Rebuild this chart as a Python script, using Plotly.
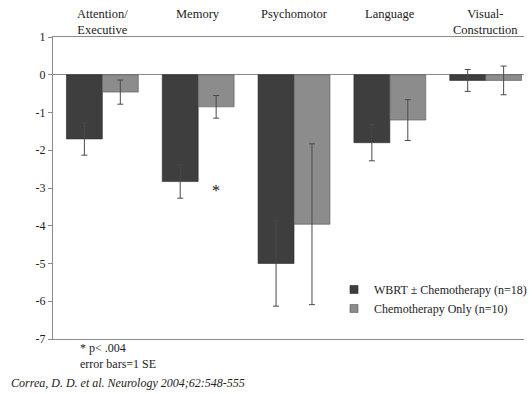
import plotly.graph_objects as go

categories = ["Attention/<br>Executive", "Memory", "Psychomotor", "Language", "Visual-<br>Construction"]
wbrt_mean = [-1.70, -2.83, -5.00, -1.80, -0.15]
wbrt_se = [0.43, 0.44, 1.13, 0.48, 0.29]
chemo_mean = [-0.46, -0.85, -3.96, -1.20, -0.15]
chemo_se = [0.32, 0.30, 2.13, 0.54, 0.38]
series_names = ["WBRT \u00b1 Chemotherapy (n=18)", "Chemotherapy Only (n=10)"]
y_ticks = [1, 0, -1, -2, -3, -4, -5, -6, -7]
y_tick_labels = ["1", "0", "-1", "-2", "-3", "-4", "-5", "-6", "-7"]
sig_index = 1  # Memory, significant for chemo-only comparison
sig_value = -3.07

FONT = "Liberation Serif, Times New Roman, serif"
DARK = "#3e3e3e"
LIGHT = "#8c8c8c"
AXIS = "#8a8a8a"

x_idx = list(range(len(categories)))

fig = go.Figure()
fig.add_trace(go.Bar(
    x=x_idx, y=wbrt_mean, name=series_names[0], showlegend=False,
    marker=dict(color=DARK, line=dict(color="#2a2a2a", width=0.6)),
    error_y=dict(type="data", array=wbrt_se, color="#4a4a4a", thickness=1, width=3),
))
fig.add_trace(go.Bar(
    x=x_idx, y=chemo_mean, name=series_names[1], showlegend=False,
    marker=dict(color=LIGHT, line=dict(color="#555555", width=0.6)),
    error_y=dict(type="data", array=chemo_se, color="#4a4a4a", thickness=1, width=3),
))
# legend entries with small square symbols
for name, col, lc in [(series_names[0], DARK, "#2a2a2a"), (series_names[1], LIGHT, "#555555")]:
    fig.add_trace(go.Scatter(
        x=[None], y=[None], mode="markers", name=name,
        marker=dict(symbol="square", size=8, color=col, line=dict(color=lc, width=0.6)),
    ))

annotations = []
for i, c in enumerate(categories):
    annotations.append(dict(
        x=i, xref="x", y=1, yref="paper", yanchor="top", yshift=32,
        text=c, showarrow=False, font=dict(family=FONT, size=12.5, color="#222"),
    ))
bar_w = 0.75 / 2
annotations.append(dict(
    x=sig_index + bar_w / 2, xref="x", y=sig_value, yref="y",
    text="*", showarrow=False, font=dict(family=FONT, size=16, color="#111"),
))
annotations.append(dict(
    x=(78 - 53) / 479, xref="paper", y=0, yref="paper", xanchor="left", yanchor="top",
    text="* p< .004<br>error bars=1 SE", align="left", showarrow=False,
    font=dict(family=FONT, size=12, color="#222"),
))
annotations.append(dict(
    x=(8 - 53) / 479, xref="paper", y=0, yref="paper", xanchor="left", yanchor="middle",
    yshift=-44, text="<i>Correa, D. D. et al. Neurology 2004;62:548-555</i>",
    showarrow=False, font=dict(family=FONT, size=12, color="#222"),
))

fig.update_layout(
    width=532, height=394,
    margin=dict(l=53, r=0, t=37, b=55),
    paper_bgcolor="white", plot_bgcolor="white",
    barmode="group", bargap=0.25, bargroupgap=0,
    font=dict(family=FONT, size=12, color="#222"),
    showlegend=True,
    legend=dict(x=0.597, y=0.212, xanchor="left", yanchor="top",
                font=dict(family=FONT, size=12, color="#222"),
                bgcolor="rgba(0,0,0,0)", tracegroupgap=0, itemwidth=30),
    annotations=annotations,
    xaxis=dict(range=[-0.515, 4.40], showticklabels=False, ticks="",
               showline=True, linecolor=AXIS, linewidth=1, mirror=True,
               showgrid=False, zeroline=False),
    yaxis=dict(range=[-7, 1], tickvals=y_ticks, ticktext=y_tick_labels,
               ticks="outside", ticklen=4,
               tickcolor=AXIS, showline=True, linecolor=AXIS, linewidth=1,
               showgrid=False, zeroline=True, zerolinecolor=AXIS, zerolinewidth=1,
               tickfont=dict(family=FONT, size=12, color="#222")),
)

fig.write_html("out.html")
